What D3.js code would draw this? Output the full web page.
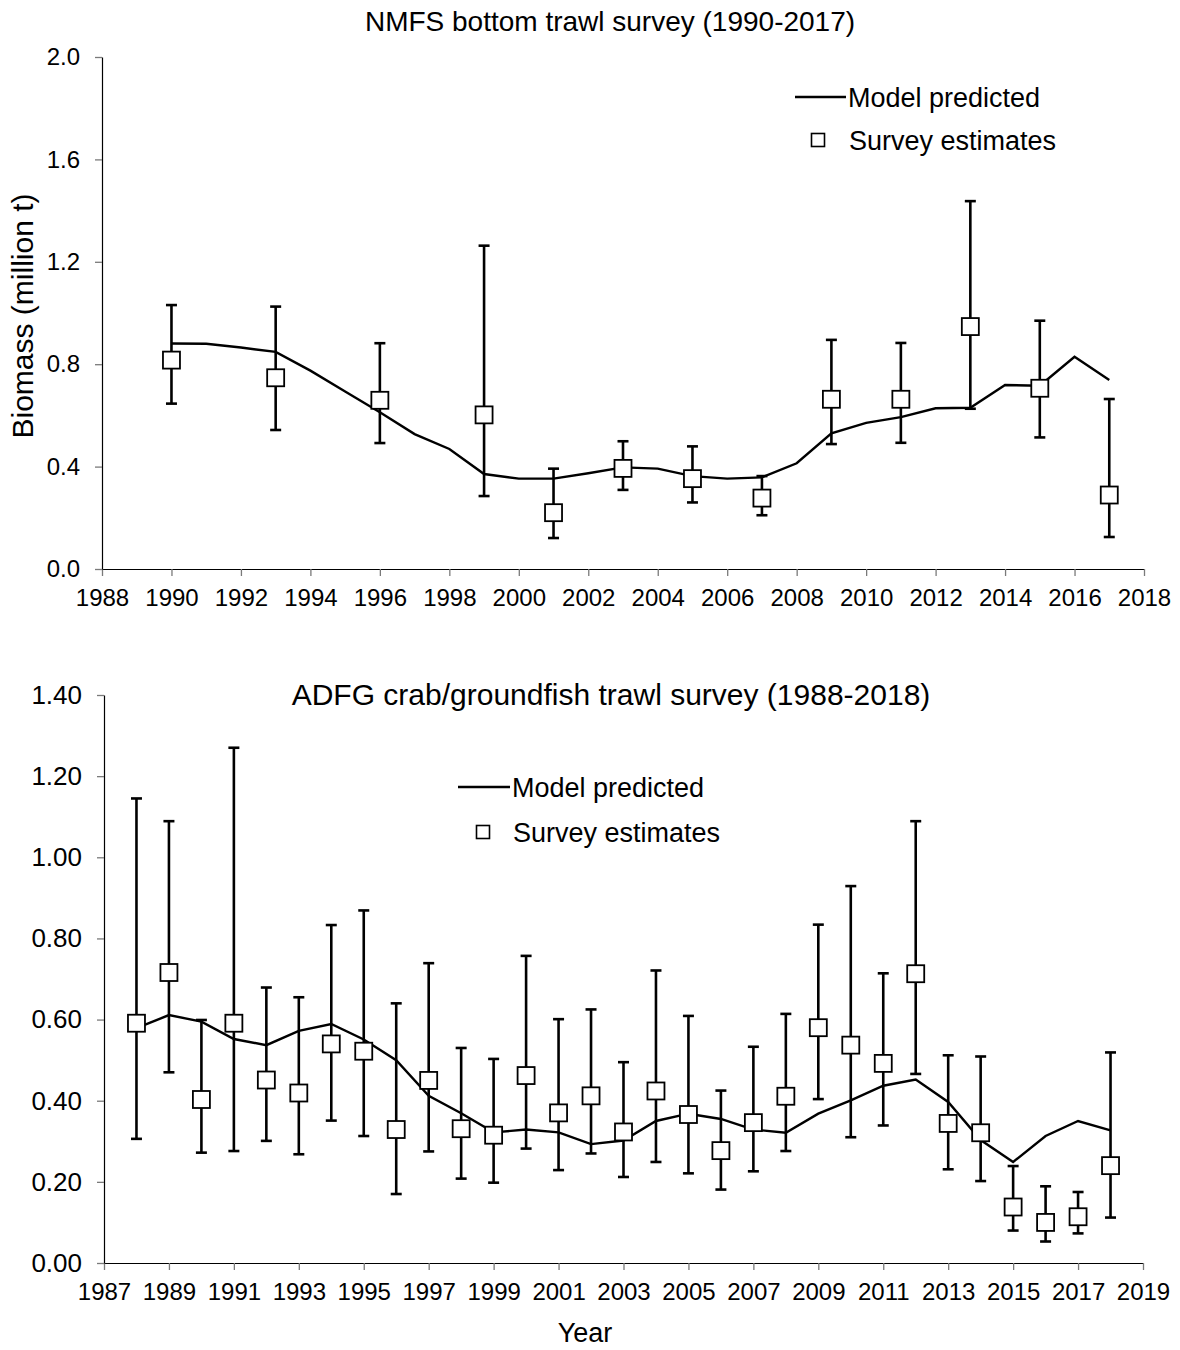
<!DOCTYPE html>
<html>
<head>
<meta charset="utf-8">
<script src="https://cdn.jsdelivr.net/npm/d3@7"></script>
<style>
  html, body { margin: 0; padding: 0; background: #fff; }
  svg { display: block; font-family: "Liberation Sans", Arial, sans-serif; }
</style>
</head>
<body>
<svg id="chart" width="1180" height="1350"></svg>
<script>
// ---------- NMFS bottom trawl survey ----------
const nmfsModelYears = [1990,1991,1992,1993,1994,1995,1996,1997,1998,1999,2000,2001,2002,2003,2004,2005,2006,2007,2008,2009,2010,2011,2012,2013,2014,2015,2016,2017];
const nmfsModel = [0.881,0.880,0.865,0.848,0.775,0.693,0.612,0.527,0.469,0.371,0.353,0.353,0.374,0.397,0.392,0.363,0.353,0.358,0.413,0.530,0.571,0.593,0.628,0.630,0.719,0.716,0.829,0.738];
const nmfsSurveyYears = [1990,1993,1996,1999,2001,2003,2005,2007,2009,2011,2013,2015,2017];
const nmfsSurvey = [0.816,0.747,0.659,0.602,0.220,0.393,0.353,0.277,0.663,0.663,0.947,0.706,0.289];
const nmfsLower  = [0.646,0.543,0.492,0.285,0.121,0.309,0.260,0.210,0.488,0.493,0.626,0.514,0.125];
const nmfsUpper  = [1.031,1.025,0.882,1.263,0.392,0.499,0.479,0.363,0.895,0.883,1.437,0.970,0.664];
const nmfsXTicks = [1988,1990,1992,1994,1996,1998,2000,2002,2004,2006,2008,2010,2012,2014,2016,2018];
const nmfsYTicks = [0,0.4,0.8,1.2,1.6,2.0];

// ---------- ADFG crab/groundfish trawl survey ----------
const adfgYears = [1988,1989,1990,1991,1992,1993,1994,1995,1996,1997,1998,1999,2000,2001,2002,2003,2004,2005,2006,2007,2008,2009,2010,2011,2012,2013,2014,2015,2016,2017,2018];
const adfgModel  = [0.579,0.611,0.595,0.552,0.537,0.572,0.589,0.551,0.500,0.412,0.369,0.322,0.329,0.322,0.293,0.302,0.350,0.368,0.355,0.329,0.321,0.368,0.401,0.437,0.452,0.397,0.303,0.249,0.313,0.350,0.327];
const adfgSurvey = [0.591,0.716,0.403,0.591,0.451,0.419,0.540,0.522,0.329,0.450,0.331,0.315,0.462,0.370,0.412,0.323,0.424,0.366,0.277,0.346,0.411,0.580,0.537,0.492,0.713,0.344,0.321,0.138,0.100,0.114,0.240];
const adfgLower  = [0.306,0.470,0.272,0.276,0.301,0.268,0.351,0.313,0.170,0.275,0.208,0.198,0.282,0.229,0.270,0.212,0.249,0.221,0.181,0.226,0.276,0.404,0.310,0.339,0.466,0.231,0.202,0.080,0.053,0.073,0.112];
const adfgUpper  = [1.145,1.089,0.599,1.270,0.679,0.655,0.833,0.869,0.640,0.739,0.530,0.503,0.757,0.601,0.625,0.495,0.721,0.609,0.425,0.533,0.614,0.834,0.929,0.714,1.089,0.512,0.509,0.239,0.189,0.175,0.519];
const adfgXTicks = [1987,1989,1991,1993,1995,1997,1999,2001,2003,2005,2007,2009,2011,2013,2015,2017,2019];
const adfgYTicks = [0,0.2,0.4,0.6,0.8,1.0,1.2,1.4];

const svg = d3.select("#chart");

function panel(cfg) {
  const g = svg.append("g");
  const x = d3.scaleLinear().domain(cfg.xDomain).range([cfg.left, cfg.right]);
  const y = d3.scaleLinear().domain(cfg.yDomain).range([cfg.bottom, cfg.top]);

  // axes
  const xa = g.append("g").attr("transform", `translate(0,${cfg.bottom})`)
    .call(d3.axisBottom(x).tickValues(cfg.xTicks).tickFormat(d3.format("d")).tickSizeInner(7).tickSizeOuter(0).tickPadding(13));
  const ya = g.append("g").attr("transform", `translate(${cfg.left},0)`)
    .call(d3.axisLeft(y).tickValues(cfg.yTicks).tickFormat(d3.format(cfg.yFormat)).tickSizeInner(7).tickSizeOuter(0).tickPadding(15));
  [xa, ya].forEach(a => {
    a.select(".domain").attr("stroke", "#000").attr("stroke-width", 1.2);
    a.selectAll(".tick line").attr("stroke", "#7a7a7a").attr("stroke-width", 1.3);
    a.selectAll(".tick text").attr("fill", "#000")
      .style("font-family", '"Liberation Sans", Arial, sans-serif');
  });
  xa.selectAll(".tick text").style("font-size", "24px");
  ya.selectAll(".tick text").style("font-size", cfg.yTickSize);

  // error bars
  const eb = g.append("g").attr("stroke", "#000").attr("stroke-width", 2.6).attr("fill", "none");
  const cap = 5.5;
  cfg.sYears.forEach((yr, i) => {
    const cx = x(yr);
    eb.append("line").attr("x1", cx).attr("x2", cx).attr("y1", y(cfg.lower[i])).attr("y2", y(cfg.upper[i]));
    eb.append("line").attr("x1", cx - cap).attr("x2", cx + cap).attr("y1", y(cfg.lower[i])).attr("y2", y(cfg.lower[i]));
    eb.append("line").attr("x1", cx - cap).attr("x2", cx + cap).attr("y1", y(cfg.upper[i])).attr("y2", y(cfg.upper[i]));
  });

  // model line
  const line = d3.line().x((d, i) => x(cfg.mYears[i])).y(d => y(d));
  g.append("path").datum(cfg.model).attr("d", line)
    .attr("fill", "none").attr("stroke", "#000").attr("stroke-width", 2.4).attr("stroke-linejoin", "miter");

  // survey squares
  const s = 17;
  g.append("g").selectAll("rect").data(cfg.survey).join("rect")
    .attr("x", (d, i) => x(cfg.sYears[i]) - s / 2)
    .attr("y", d => y(d) - s / 2)
    .attr("width", s).attr("height", s)
    .attr("fill", "#fff").attr("stroke", "#000").attr("stroke-width", 1.8);

  // title
  g.append("text").attr("x", cfg.titleX).attr("y", cfg.titleY).attr("text-anchor", "middle")
    .style("font-size", cfg.titleSize).attr("fill", "#000").text(cfg.title);

  // legend
  const L = cfg.legend;
  g.append("line").attr("x1", L.lx1).attr("x2", L.lx2).attr("y1", L.ly).attr("y2", L.ly)
    .attr("stroke", "#000").attr("stroke-width", 2.4);
  g.append("text").attr("x", L.lx2 + 2).attr("y", L.ly + 10).style("font-size", "27px").attr("fill", "#000").text("Model predicted");
  g.append("rect").attr("x", L.sx - 6.5).attr("y", L.sy - 6.5).attr("width", 13).attr("height", 13)
    .attr("fill", "#fff").attr("stroke", "#000").attr("stroke-width", 1.6);
  g.append("text").attr("x", L.tx2).attr("y", L.sy + 10).style("font-size", "27px").attr("fill", "#000").text("Survey estimates");
}

panel({
  xDomain: [1988, 2018], yDomain: [0, 2.0],
  left: 102, right: 1144, top: 57, bottom: 569,
  xTicks: nmfsXTicks, yTicks: nmfsYTicks, yFormat: ".1f", yTickSize: "24px",
  mYears: nmfsModelYears, model: nmfsModel,
  sYears: nmfsSurveyYears, survey: nmfsSurvey, lower: nmfsLower, upper: nmfsUpper,
  title: "NMFS bottom trawl survey (1990-2017)", titleX: 610, titleY: 31, titleSize: "28px",
  legend: { lx1: 795, lx2: 846, ly: 97, sx: 818, sy: 140, tx2: 849 }
});

panel({
  xDomain: [1987, 2019], yDomain: [0, 1.4],
  left: 104, right: 1143, top: 695, bottom: 1263,
  xTicks: adfgXTicks, yTicks: adfgYTicks, yFormat: ".2f", yTickSize: "26px",
  mYears: adfgYears, model: adfgModel,
  sYears: adfgYears, survey: adfgSurvey, lower: adfgLower, upper: adfgUpper,
  title: "ADFG crab/groundfish trawl survey (1988-2018)", titleX: 611, titleY: 705, titleSize: "30px",
  legend: { lx1: 458, lx2: 510, ly: 787, sx: 483, sy: 832, tx2: 513 }
});

// axis titles
svg.append("text").attr("transform", "translate(33,316) rotate(-90)").attr("text-anchor", "middle")
  .style("font-size", "30px").attr("fill", "#000").text("Biomass (million t)");
svg.append("text").attr("x", 585).attr("y", 1342).attr("text-anchor", "middle")
  .style("font-size", "27px").attr("fill", "#000").text("Year");
</script>
</body>
</html>
